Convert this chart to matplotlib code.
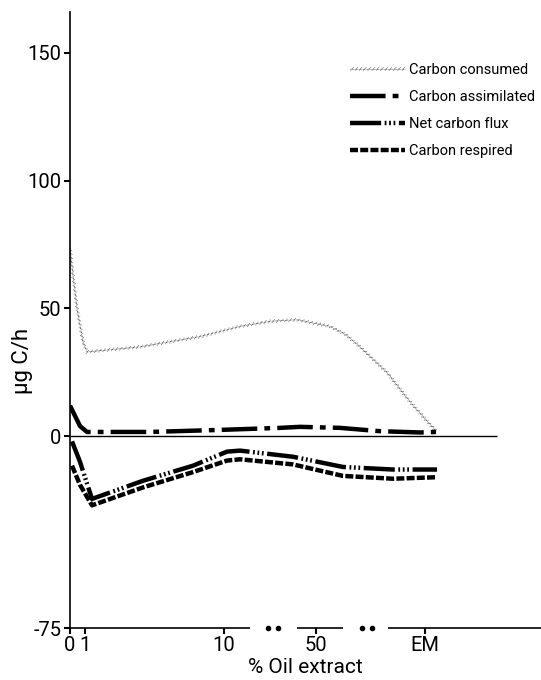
import matplotlib
matplotlib.use('Agg')
import matplotlib.pyplot as plt
import matplotlib.patheffects as pe

plt.rcParams['font.family'] = ['Roboto', 'DejaVu Sans']
plt.rcParams['axes.unicode_minus'] = False

# x positions along the broken axis (axis units, not % values)
tick_pos = [0, 0.15, 1.54, 2.46, 3.55]
tick_labels = ['0', '1', '10', '50', 'EM']

consumed_x = [0.0, 0.03, 0.07, 0.13, 0.17, 0.70, 1.30, 1.70, 2.00, 2.27, 2.60, 2.75, 2.90, 3.17, 3.40, 3.66]
consumed_y = [74, 63, 50, 37, 33, 35, 39, 43, 45, 45.6, 43, 40, 35, 25, 13.5, 2]

assim_x = [0.0, 0.05, 0.10, 0.17, 0.80, 1.50, 2.10, 2.30, 2.70, 3.10, 3.50, 3.66]
assim_y = [12, 8, 4, 1.7, 1.7, 2.5, 3.3, 3.7, 3.3, 2, 1.5, 1.7]

net_x = [0.02, 0.10, 0.22, 0.73, 1.23, 1.57, 1.70, 2.23, 2.73, 3.23, 3.67]
net_y = [-2, -10, -24.5, -17.4, -11.5, -6, -5.6, -8, -12, -13, -13]

resp_x = [0.02, 0.10, 0.22, 0.73, 1.23, 1.57, 1.70, 2.23, 2.73, 3.23, 3.67]
resp_y = [-11.5, -19, -27, -20, -14, -9.5, -9, -11, -15.5, -16.6, -16]

fig = plt.figure(figsize=(5.41, 6.8), dpi=100)
ax = fig.add_axes([70/541, 52/680, 471/541, 616/680])

ax.hlines(0, 0, 4.27, color='black', lw=1.0)

ax.plot(consumed_x, consumed_y, color='0.3', lw=0.5, ls=(0, (1, 1)),
        label='Carbon consumed',
        path_effects=[pe.TickedStroke(spacing=3, angle=45, length=0.6, linewidth=0.6, foreground='0.25'),
                      pe.TickedStroke(spacing=3, angle=-135, length=0.6, linewidth=0.6, foreground='0.25'),
                      pe.Normal()])
ax.plot(assim_x, assim_y, color='black', lw=3.2, dash_capstyle='butt',
        ls=(0, (8, 1.6, 1.3, 1.6)), label='Carbon assimilated')
ax.plot(net_x, net_y, color='black', lw=3.2, dash_capstyle='butt',
        ls=(0, (7, 0.8, 0.4, 0.6, 0.4, 0.6, 0.4, 0.8)), label='Net carbon flux')
ax.plot(resp_x, resp_y, color='black', lw=3.2, dash_capstyle='butt',
        ls=(0, (1.8, 0.5)), label='Carbon respired')

ax.set_xlim(0, 4.71)
ax.set_ylim(-75, 166)

for s in ['top', 'right', 'bottom']:
    ax.spines[s].set_visible(False)
ax.spines['left'].set_linewidth(1.2)

# broken x axis with dots
ax.hlines([-75, -75, -75], [0, 2.27, 3.18], [1.80, 2.73, 4.71], color='black', lw=1.2, clip_on=False)
ax.plot([1.98, 2.08, 2.92, 3.02], [-75, -75, -75, -75], 'o', color='black', ms=3, clip_on=False)

ax.set_yticks([-75, 0, 50, 100, 150])
ax.set_xticks(tick_pos)
ax.set_xticklabels(tick_labels)
ax.tick_params(axis='both', direction='out', length=4, width=1.5, labelsize=14.5, pad=2)

ax.set_xlabel('% Oil extract', fontsize=15, labelpad=2)
ax.set_ylabel('μg C/h', fontsize=16)
ax.yaxis.set_label_coords(-0.079, 0.433)

ax.legend(loc='upper left', bbox_to_anchor=(350/541, 1 - 63/680), bbox_transform=fig.transFigure,
          frameon=False, fontsize=10.5, handlelength=3.8, handletextpad=0.25, labelspacing=0.9,
          borderpad=0, borderaxespad=0)

fig.savefig('out.png', dpi=100)
